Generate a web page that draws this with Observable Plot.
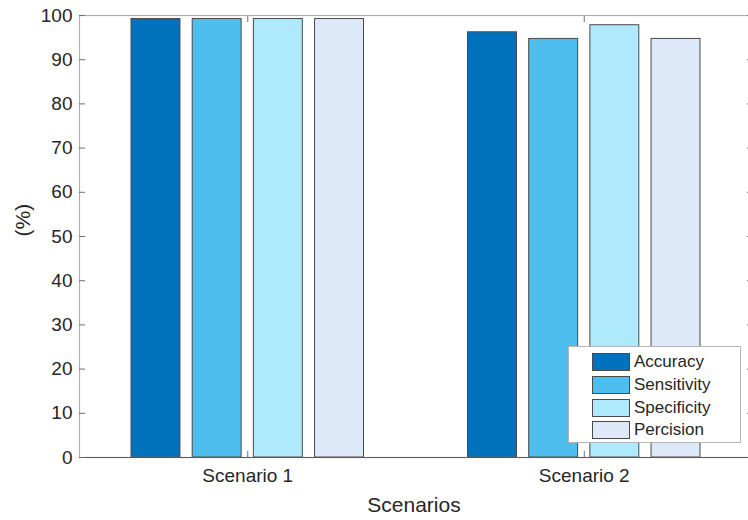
<!DOCTYPE html>
<html><head><meta charset="utf-8">
<script src="https://cdn.jsdelivr.net/npm/d3@7"></script>
<script src="https://cdn.jsdelivr.net/npm/@observablehq/plot@0.6"></script>
<style>
html,body{margin:0;padding:0;background:#fff;overflow:hidden;}
#wrap{position:relative;width:748px;height:520px;font-family:"Liberation Sans",Arial,sans-serif;}
#wrap svg{overflow:visible;}
#legend{position:absolute;left:568px;top:346px;width:173px;height:97px;border:1px solid #b4b4b4;background:#fff;box-sizing:border-box;padding:4px 0 0 23px;}
.row{display:flex;align-items:center;height:22.7px;}
.sw{width:38px;height:18px;border:1px solid #4a4a4a;box-sizing:border-box;margin-right:4px;}
.lab{font-size:17px;color:#262626;}
</style></head>
<body><div id="wrap"></div>
<script>
const scenarios = ["Scenario 1", "Scenario 2"];
const metrics = ["Accuracy", "Sensitivity", "Specificity", "Percision"];
const scenario1Values = [99.2, 99.2, 99.2, 99.2];
const scenario2Values = [96.2, 94.7, 97.8, 94.7];
const colors = ["#0072bd", "#4dbeee", "#aeeafc", "#dde9f8"];
const yTicks = [0, 10, 20, 30, 40, 50, 60, 70, 80, 90, 100];
const xTicks = [1, 2];

// MATLAB-style grouped bar layout computed from indices
const nBars = metrics.length;
const groupWidth = Math.min(0.8, nBars / (nBars + 1.5));
const slot = groupWidth / nBars;
const barW = slot * 0.8;

const seriesByScenario = [scenario1Values, scenario2Values];
const data = [];
seriesByScenario.forEach((vals, g) => {
  vals.forEach((v, k) => {
    const c = (g + 1) + (k - (nBars - 1) / 2) * slot;
    data.push({scenario: scenarios[g], metric: metrics[k], value: v, x1: c - barW / 2, x2: c + barW / 2});
  });
});

const textColor = "#262626";
const chart = Plot.plot({
  width: 748,
  height: 520,
  marginLeft: 79,
  marginRight: -4,
  marginTop: 15,
  marginBottom: 63,
  style: {fontFamily: "Liberation Sans, Arial, sans-serif", fontSize: "19px", color: textColor, background: "#fff"},
  x: {domain: [0.5, 2.5]},
  y: {domain: [0, 100]},
  color: {domain: metrics, range: colors},
  marks: [
    Plot.rectY(data, {x1: "x1", x2: "x2", y: "value", fill: "metric", stroke: "#4a4a4a", strokeWidth: 1}),
    Plot.frame({stroke: "#b0b0b0", strokeWidth: 1.2}),
    Plot.ruleY([0], {stroke: "#5a5a5a", strokeWidth: 1.2}),
    Plot.axisY({ticks: yTicks, tickSize: -6, tickPadding: 13, stroke: "#707070", fontSize: 19, label: null}),
    Plot.axisY({anchor: "right", ticks: yTicks, tickSize: -6, tickFormat: () => "", label: null, stroke: "#707070"}),
    Plot.axisX({ticks: xTicks, tickSize: -6, tickPadding: 17, tickFormat: d => scenarios[d - 1], stroke: "#707070", fontSize: 19, label: null}),
    Plot.axisX({anchor: "top", ticks: xTicks, tickSize: -6, tickFormat: () => "", label: null, stroke: "#707070"}),
    Plot.text(["(%)"], {frameAnchor: "left", dx: -56, rotate: -90, fontSize: 21, fill: textColor}),
    Plot.text(["Scenarios"], {frameAnchor: "bottom", dx: -2, dy: 54, fontSize: 21, fill: textColor})
  ]
});
document.getElementById("wrap").appendChild(chart);

// Legend overlay (MATLAB southeast legend)
const legend = document.createElement("div");
legend.id = "legend";
metrics.forEach((m, i) => {
  const row = document.createElement("div");
  row.className = "row";
  const sw = document.createElement("div");
  sw.className = "sw";
  sw.style.background = colors[i];
  const lab = document.createElement("span");
  lab.className = "lab";
  lab.textContent = m;
  row.appendChild(sw);
  row.appendChild(lab);
  legend.appendChild(row);
});
document.getElementById("wrap").appendChild(legend);
</script>
</body></html>
